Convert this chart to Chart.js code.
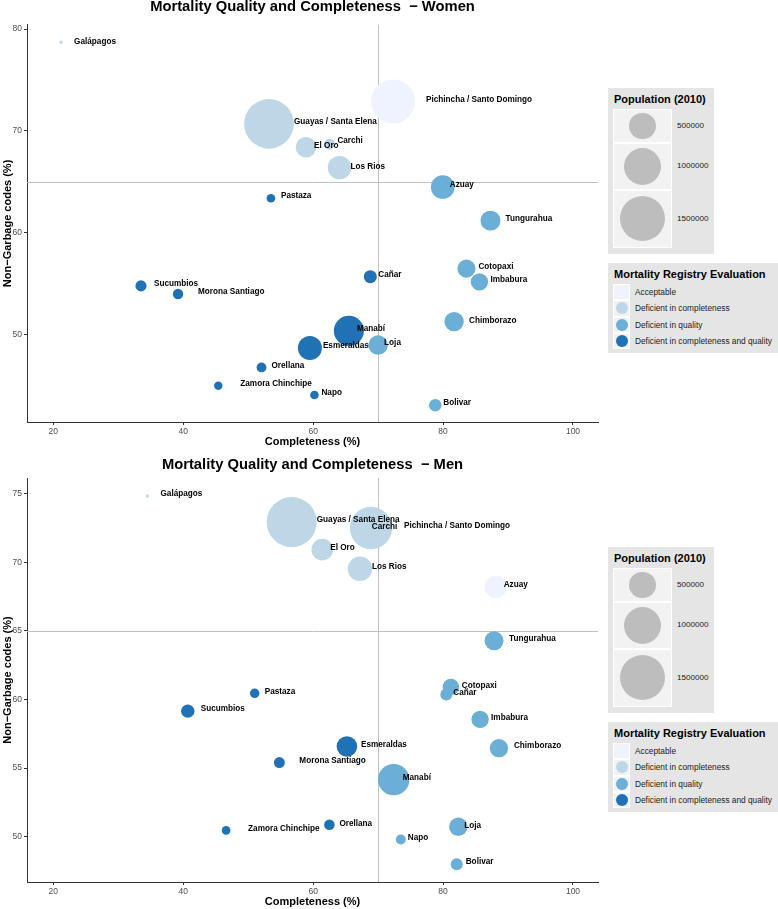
<!DOCTYPE html>
<html>
<head>
<meta charset="utf-8">
<script src="https://cdn.jsdelivr.net/npm/chart.js@4.4.0/dist/chart.umd.min.js"></script>
<style>
  body { margin: 0; background: #fff; font-family: "Liberation Sans", Arial, sans-serif; }
  #page { position: relative; width: 778px; height: 909px; overflow: hidden; }
  #page canvas { position: absolute; left: 0; }
  .lg { position: absolute; background: #e5e5e5; }
  .lg-title { position: absolute; left: 6px; top: 4px; font-weight: bold; font-size: 11px; line-height: 14px; color: #000; white-space: nowrap; }
  .key { position: absolute; background: #f2f2f2; border: 1px solid #fff; box-sizing: border-box; }
  .dot { position: absolute; border-radius: 50%; }
  .lg-text { position: absolute; color: #1a1a1a; white-space: nowrap; }
</style>
</head>
<body>
<div id="page">
  <canvas id="women" width="778" height="449" style="top:0"></canvas>
  <canvas id="men" width="778" height="460" style="top:449px"></canvas>
</div>
<script>
// --- data ---
const provinces = ['Galápagos', 'Guayas / Santa Elena', 'Pichincha / Santo Domingo', 'El Oro', 'Carchi', 'Los Rios',
  'Pastaza', 'Azuay', 'Tungurahua', 'Sucumbios', 'Morona Santiago', 'Cañar', 'Manabí', 'Esmeraldas', 'Loja',
  'Orellana', 'Zamora Chinchipe', 'Napo', 'Cotopaxi', 'Imbabura', 'Chimborazo', 'Bolivar'];

const evaluationLabels = ['Acceptable', 'Deficient in completeness', 'Deficient in quality', 'Deficient in completeness and quality'];
const evaluationColors = ['#eff3ff', '#bdd7e7', '#6baed6', '#2171b5'];

const xTicks = [20, 40, 60, 80, 100];
const yTicksWomen = [50, 60, 70, 80];
const yTicksMen = [50, 55, 60, 65, 70, 75];
const sizeBreaks = [500000, 1000000, 1500000];
const refCompleteness = 70;
const refNonGarbage = 65;

// women
const completenessWomen = [21.2, 53.2, 72.3, 58.9, 62.5, 64.05, 53.5, 79.95, 87.3, 33.5, 39.2, 68.8, 65.5, 59.5, 70.0, 52.05, 45.4, 60.2, 83.6, 85.6, 81.7, 78.8];
const nonGarbageWomen = [78.7, 70.7, 72.9, 68.4, 68.7, 66.4, 63.4, 64.5, 61.2, 54.8, 54.0, 55.7, 50.4, 48.7, 49.0, 46.8, 45.0, 44.1, 56.5, 55.2, 51.3, 43.1];
const populationWomen = [8000, 1800000, 1410000, 310000, 88000, 400000, 55000, 410000, 290000, 90000, 80000, 125000, 660000, 420000, 275000, 70000, 52000, 54000, 240000, 220000, 275000, 115000];
const evaluationWomen = [1, 1, 0, 1, 1, 1, 3, 2, 2, 3, 3, 3, 3, 3, 2, 3, 3, 3, 2, 2, 2, 2];

// men
const completenessMen = [34.5, 56.7, 68.9, 61.4, 67.8, 67.2, 51.0, 88.1, 87.85, 40.7, 54.8, 80.5, 72.4, 65.2, 82.35, 62.5, 46.6, 73.5, 81.2, 85.7, 88.6, 82.1];
const nonGarbageMen = [74.83, 72.93, 72.5, 70.92, 72.44, 69.52, 60.45, 68.2, 64.28, 59.15, 55.4, 60.36, 54.16, 56.57, 50.72, 50.87, 50.46, 49.8, 60.91, 58.55, 56.45, 48.0];
const populationMen = [8000, 1830000, 1310000, 340000, 80000, 440000, 65000, 365000, 265000, 130000, 88000, 105000, 720000, 310000, 250000, 82000, 54000, 73000, 200000, 220000, 245000, 105000];
const evaluationMen = [1, 1, 1, 1, 1, 1, 3, 0, 2, 3, 3, 2, 2, 3, 2, 3, 3, 2, 2, 2, 2, 2];

// label nudges in px (layout only)
const labelNudgeWomen = [[13,-1],[25,-2],[33,-2],[8,-2],[8,-3],[11,-1],[10,-2],[7,-2],[15,-2],[13,-2],[20,-2],[8,-2],[8,-2],[13,-2],[6,-2],[10,-2],[22,-2],[7,-2],[12,-2],[11,-2],[15,-1],[8,-2]];
const labelNudgeMen = [[13,-2],[25,-2],[33,-2],[8,-2],[8,-2],[12,-2],[10,-2],[8,-2],[15,-2],[13,-2],[20,-2],[7,-2],[9,-2],[14,-2],[6,-1],[10,-1],[22,-2],[7,-2],[11,-1],[11,-2],[15,-2],[9,-2]];

const FONT = '"Liberation Sans", Arial, sans-serif';
Chart.defaults.font.family = FONT;

function radiusFor(pop) {
  return Math.max(1.6, 18.5 * Math.sqrt(pop / 1e6));
}

const refLines = {
  id: 'refLines',
  beforeDatasetsDraw(chart) {
    const { ctx, chartArea: a, scales: { x, y } } = chart;
    const px = Math.round(x.getPixelForValue(refCompleteness)) + 0.5;
    const py = Math.round(y.getPixelForValue(refNonGarbage)) + 0.5;
    ctx.save();
    ctx.strokeStyle = '#bfbfbf';
    ctx.lineWidth = 1;
    ctx.beginPath();
    ctx.moveTo(px, a.top); ctx.lineTo(px, a.bottom);
    ctx.moveTo(a.left, py); ctx.lineTo(a.right, py);
    ctx.stroke();
    ctx.restore();
  }
};

// point labels + panel title
const pointLabels = {
  id: 'pointLabels',
  afterDatasetsDraw(chart, args, opts) {
    const { ctx, chartArea: a } = chart;
    const meta = chart.getDatasetMeta(0);
    ctx.save();
    ctx.font = 'bold 8.2px ' + FONT;
    ctx.fillStyle = '#000';
    ctx.textAlign = 'left';
    ctx.textBaseline = 'middle';
    meta.data.forEach((pt, i) => {
      const n = opts.nudges[i];
      ctx.fillText(provinces[i], pt.x + n[0], pt.y + n[1]);
    });
    ctx.font = 'bold 14.75px ' + FONT;
    ctx.textAlign = 'center';
    ctx.textBaseline = 'alphabetic';
    ctx.fillText(opts.title, (a.left + a.right) / 2, opts.titleBaseline);
    ctx.restore();
  }
};

function makeChart(id, titleText, titleBaseline, topPad, comp, ng, pop, evals, yMin, yMax, yTicks, nudges) {
  return new Chart(document.getElementById(id), {
    type: 'bubble',
    data: {
      datasets: [{
        data: provinces.map((p, i) => ({ x: comp[i], y: ng[i], r: radiusFor(pop[i]) })),
        backgroundColor: evals.map(e => evaluationColors[e]),
        borderWidth: 0,
        hoverRadius: 0
      }]
    },
    options: {
      responsive: false,
      animation: false,
      events: [],
      layout: { padding: { left: 0, right: 180, top: topPad, bottom: 0 } },
      plugins: {
        legend: { display: false },
        tooltip: { enabled: false },
        title: { display: false },
        pointLabels: { nudges: nudges, title: titleText, titleBaseline: titleBaseline }
      },
      scales: {
        x: {
          type: 'linear', min: 15.95, max: 103.85,
          afterBuildTicks: s => { s.ticks = xTicks.map(v => ({ value: v })); },
          afterFit: s => { s.height = 27; },
          grid: { drawOnChartArea: false, drawTicks: true, tickLength: 3, color: '#333' },
          border: { display: true, color: '#333', width: 1 },
          ticks: { font: { size: 8.5 }, color: '#4d4d4d', padding: 2, maxRotation: 0 },
          title: { display: true, text: 'Completeness (%)', color: '#000', font: { size: 11, weight: 'bold' }, padding: { top: 0, bottom: 0 } }
        },
        y: {
          type: 'linear', min: yMin, max: yMax,
          afterBuildTicks: s => { s.ticks = yTicks.map(v => ({ value: v })); },
          afterFit: s => { s.width = 27; },
          grid: { drawOnChartArea: false, drawTicks: true, tickLength: 3, color: '#333' },
          border: { display: true, color: '#333', width: 1 },
          ticks: { font: { size: 8.5 }, color: '#4d4d4d', padding: 2 },
          title: { display: true, text: 'Non−Garbage codes (%)', color: '#000', font: { size: 11, weight: 'bold' }, padding: { top: 1.5, bottom: 0 } }
        }
      }
    },
    plugins: [refLines, pointLabels]
  });
}

makeChart('women', 'Mortality Quality and Completeness  − Women', 10.5, 18,
  completenessWomen, nonGarbageWomen, populationWomen, evaluationWomen, 41.45, 80.41, yTicksWomen, labelNudgeWomen);
makeChart('men', 'Mortality Quality and Completeness  − Men', 20, 29,
  completenessMen, nonGarbageMen, populationMen, evaluationMen, 46.7, 76.14, yTicksMen, labelNudgeMen);

// --- legends (HTML) ---
function el(cls, css, text) {
  const d = document.createElement('div');
  d.className = cls;
  Object.assign(d.style, css);
  if (text !== undefined) d.textContent = text;
  return d;
}

function buildLegends(top) {
  const page = document.getElementById('page');

  const popBox = el('lg', { left: '608px', top: top + 'px', width: '106px' });
  popBox.appendChild(el('lg-title', {}, 'Population (2010)'));
  let yy = 21;
  sizeBreaks.forEach(v => {
    const r = radiusFor(v);
    const h = 2.5 * r + 1;
    const key = el('key', { left: '5px', top: yy + 'px', width: '59px', height: h + 'px' });
    popBox.appendChild(key);
    popBox.appendChild(el('dot', {
      left: (5 + 29.5 - r) + 'px', top: (yy + h / 2 - r) + 'px',
      width: 2 * r + 'px', height: 2 * r + 'px', background: '#bdbdbd'
    }));
    popBox.appendChild(el('lg-text', {
      left: '69px', top: (yy + h / 2 - 5) + 'px', fontSize: '8.1px', lineHeight: '10px'
    }, String(v)));
    yy += h;
  });
  popBox.style.height = (yy + 6) + 'px';
  page.appendChild(popBox);

  const evBox = el('lg', { left: '608px', top: (top + 175) + 'px', width: '170px', height: '90px' });
  evBox.appendChild(el('lg-title', {}, 'Mortality Registry Evaluation'));
  evaluationLabels.forEach((lab, i) => {
    const ky = 21 + i * 16.3;
    evBox.appendChild(el('key', { left: '5px', top: ky + 'px', width: '17px', height: '16.3px' }));
    evBox.appendChild(el('dot', {
      left: (5 + 8.5 - 6) + 'px', top: (ky + 8.15 - 6) + 'px', width: '12px', height: '12px',
      background: evaluationColors[i]
    }));
    evBox.appendChild(el('lg-text', {
      left: '27px', top: (ky + 8.15 - 5) + 'px', fontSize: '8.3px', lineHeight: '10px'
    }, lab));
  });
  page.appendChild(evBox);
}

buildLegends(88);
buildLegends(547);
</script>
</body>
</html>
